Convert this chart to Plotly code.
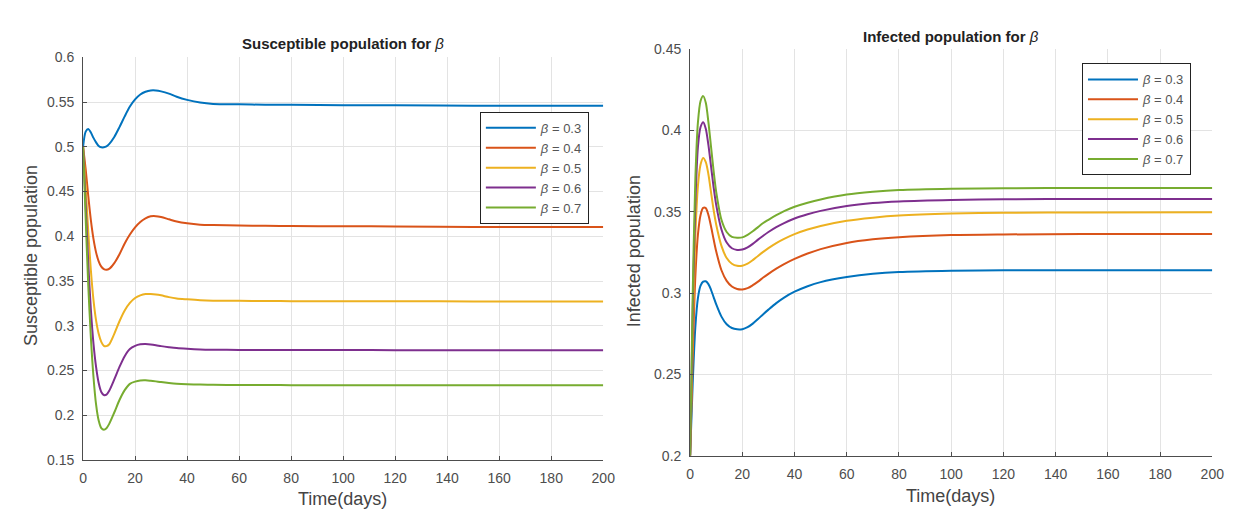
import plotly.graph_objects as go

# ---------------- data ----------------
time_days = [0, 1, 2, 3, 4, 5, 6, 7, 8, 9, 10, 12, 14, 16, 18, 20, 22, 24, 26, 28, 30,
             33, 36, 40, 45, 50, 60, 70, 80, 100, 120, 150, 200]

beta_labels = ["0.3", "0.4", "0.5", "0.6", "0.7"]

# Susceptible population
S_b03 = [0.500, 0.517, 0.520, 0.516, 0.510, 0.505, 0.501, 0.4995, 0.4995, 0.5005, 0.503, 0.511,
         0.522, 0.534, 0.545, 0.553, 0.5585, 0.5615, 0.563, 0.563, 0.562, 0.5595, 0.556, 0.5525,
         0.5495, 0.548, 0.5475, 0.547, 0.547, 0.5465, 0.5465, 0.546, 0.546]
S_b04 = [0.5, 0.475, 0.445, 0.418, 0.397, 0.382, 0.372, 0.366, 0.3632, 0.3625, 0.3635, 0.370,
         0.380, 0.392, 0.402, 0.410, 0.416, 0.420, 0.4223, 0.4225, 0.4215, 0.419, 0.4165, 0.4145,
         0.413, 0.4125, 0.412, 0.4118, 0.4115, 0.4112, 0.411, 0.4105, 0.4105]
S_b05 = [0.5, 0.455, 0.405, 0.362, 0.329, 0.306, 0.291, 0.282, 0.2775, 0.2772, 0.279, 0.291,
         0.305, 0.317, 0.3255, 0.331, 0.334, 0.3355, 0.3355, 0.335, 0.334, 0.332, 0.3305, 0.3295,
         0.3285, 0.328, 0.3278, 0.3276, 0.3275, 0.3274, 0.3273, 0.3272, 0.3272]
S_b06 = [0.5, 0.435, 0.37, 0.318, 0.28, 0.254, 0.236, 0.226, 0.2225, 0.223, 0.227, 0.240,
         0.254, 0.266, 0.274, 0.2775, 0.2792, 0.2795, 0.279, 0.2782, 0.2772, 0.276, 0.275, 0.2742,
         0.2735, 0.2732, 0.273, 0.2729, 0.2728, 0.2728, 0.2727, 0.2727, 0.2727]
S_b07 = [0.5, 0.42, 0.345, 0.287, 0.243, 0.212, 0.194, 0.1855, 0.1838, 0.1855, 0.19, 0.203,
         0.217, 0.228, 0.235, 0.2375, 0.2388, 0.239, 0.2385, 0.2378, 0.237, 0.236, 0.2352, 0.2346,
         0.2342, 0.234, 0.2338, 0.2337, 0.2336, 0.2336, 0.2335, 0.2335, 0.2335]

# Infected population
I_b03 = [0.2, 0.245, 0.279, 0.297, 0.3045, 0.307, 0.3072, 0.3055, 0.302, 0.2975, 0.293, 0.2855,
         0.2808, 0.2785, 0.2777, 0.2778, 0.279, 0.2812, 0.284, 0.287, 0.2898, 0.2938, 0.2972,
         0.3008, 0.3042, 0.3067, 0.3098, 0.3118, 0.3129, 0.3137, 0.314, 0.314, 0.314]
I_b04 = [0.2, 0.262, 0.31, 0.336, 0.348, 0.3523, 0.3522, 0.348, 0.341, 0.333, 0.3255, 0.314,
         0.3075, 0.304, 0.3025, 0.3022, 0.303, 0.3048, 0.307, 0.3095, 0.3118, 0.315, 0.3178,
         0.321, 0.3243, 0.327, 0.3308, 0.333, 0.3343, 0.3356, 0.336, 0.3362, 0.3363]
I_b05 = [0.2, 0.275, 0.335, 0.366, 0.379, 0.383, 0.3805, 0.373, 0.362, 0.351, 0.342, 0.329,
         0.3215, 0.318, 0.3167, 0.3168, 0.318, 0.3202, 0.3228, 0.3253, 0.3276, 0.3307, 0.3333,
         0.3362, 0.339, 0.3412, 0.3444, 0.3463, 0.3476, 0.3488, 0.3493, 0.3495, 0.3496]
I_b06 = [0.2, 0.29, 0.355, 0.39, 0.402, 0.405, 0.401, 0.391, 0.378, 0.365, 0.354, 0.339,
         0.331, 0.3275, 0.3265, 0.3267, 0.328, 0.3302, 0.3328, 0.3352, 0.3375, 0.3405, 0.343,
         0.3458, 0.3484, 0.3505, 0.3535, 0.3553, 0.3563, 0.3572, 0.3576, 0.3578, 0.3578]
I_b07 = [0.2, 0.3, 0.37, 0.405, 0.418, 0.421, 0.417, 0.405, 0.39, 0.375, 0.362, 0.345,
         0.3375, 0.3345, 0.334, 0.3342, 0.3358, 0.338, 0.3405, 0.343, 0.345, 0.3478, 0.3503,
         0.353, 0.3555, 0.3575, 0.3605, 0.3622, 0.3633, 0.3641, 0.3644, 0.3645, 0.3645]

S_series = [S_b03, S_b04, S_b05, S_b06, S_b07]
I_series = [I_b03, I_b04, I_b05, I_b06, I_b07]

x_ticks = [0, 20, 40, 60, 80, 100, 120, 140, 160, 180, 200]
yS_ticks = [0.15, 0.2, 0.25, 0.3, 0.35, 0.4, 0.45, 0.5, 0.55, 0.6]
yI_ticks = [0.2, 0.25, 0.3, 0.35, 0.4, 0.45]

colors = ["#0072BD", "#D95319", "#EDB120", "#7E2F8E", "#77AC30"]

# ---------------- figure ----------------
W, H = 1238, 510
FONT = "Liberation Sans, Arial, Helvetica, sans-serif"
AX = "#4d4d4d"
GRID = "#e3e3e3"

fig = go.Figure()

for lab, ys, c in zip(beta_labels, S_series, colors):
    fig.add_trace(go.Scatter(x=time_days, y=ys, mode="lines", name="<i>β</i> = " + lab,
                             line=dict(color=c, width=2, shape="spline", smoothing=0.8),
                             xaxis="x", yaxis="y", legend="legend"))
for lab, ys, c in zip(beta_labels, I_series, colors):
    fig.add_trace(go.Scatter(x=time_days, y=ys, mode="lines", name="<i>β</i> = " + lab,
                             line=dict(color=c, width=2, shape="spline", smoothing=0.8),
                             xaxis="x2", yaxis="y2", legend="legend2"))

def px_x(p):
    return p / W

def px_y(p):
    return 1 - p / H

common_axis = dict(showline=True, linecolor=AX, linewidth=1, mirror=False,
                   ticks="inside", ticklen=4, tickcolor=AX, tickwidth=1,
                   showgrid=True, gridcolor=GRID, gridwidth=1, zeroline=False,
                   tickfont=dict(family=FONT, size=14, color=AX))

legend_common = dict(xanchor="left", yanchor="top", bgcolor="white", bordercolor="#222",
                     borderwidth=1, font=dict(family=FONT, size=13, color="#555"),
                     itemwidth=50, tracegroupgap=0)

fig.update_layout(
    width=W, height=H,
    margin=dict(l=0, r=0, t=0, b=0),
    paper_bgcolor="white", plot_bgcolor="white",
    showlegend=True,
    xaxis=dict(domain=[px_x(72), px_x(599)], range=[0, 200], tickvals=x_ticks,
               anchor="y", ticklabelstandoff=5, **common_axis),
    yaxis=dict(domain=[px_y(458.3), px_y(42.7)], range=[0.15, 0.6], tickvals=yS_ticks,
               anchor="x", ticklabelstandoff=5, **common_axis),
    xaxis2=dict(domain=[px_x(687), px_x(1216)], range=[0, 200], tickvals=x_ticks,
                anchor="y2", ticklabelstandoff=5, **common_axis),
    yaxis2=dict(domain=[px_y(454), px_y(34)], range=[0.2, 0.45], tickvals=yI_ticks,
                anchor="x2", ticklabelstandoff=5, **common_axis),
    legend=dict(x=px_x(474), y=px_y(99), **legend_common),
    legend2=dict(x=px_x(1084), y=px_y(49), **legend_common),
    annotations=[
        dict(text="<b>Susceptible population for</b> <i>β</i>", x=px_x(335), y=px_y(28),
             xref="paper", yref="paper", showarrow=False, xanchor="center", yanchor="middle",
             font=dict(family=FONT, size=15, color="#222")),
        dict(text="<b>Infected population for</b> <i>β</i>", x=px_x(951), y=px_y(21),
             xref="paper", yref="paper", showarrow=False, xanchor="center", yanchor="middle",
             font=dict(family=FONT, size=15, color="#222")),
        dict(text="Time(days)", x=px_x(335), y=px_y(499), xref="paper", yref="paper",
             showarrow=False, xanchor="center", yanchor="middle",
             font=dict(family=FONT, size=18, color="#444")),
        dict(text="Time(days)", x=px_x(951), y=px_y(496), xref="paper", yref="paper",
             showarrow=False, xanchor="center", yanchor="middle",
             font=dict(family=FONT, size=18, color="#444")),
        dict(text="Susceptible population", x=px_x(19), y=px_y(247), xref="paper", yref="paper",
             showarrow=False, xanchor="center", yanchor="middle", textangle=-90,
             font=dict(family=FONT, size=18, color="#444")),
        dict(text="Infected population", x=px_x(631), y=px_y(243), xref="paper", yref="paper",
             showarrow=False, xanchor="center", yanchor="middle", textangle=-90,
             font=dict(family=FONT, size=18, color="#444")),
    ],
)

fig.write_html("out.html")
